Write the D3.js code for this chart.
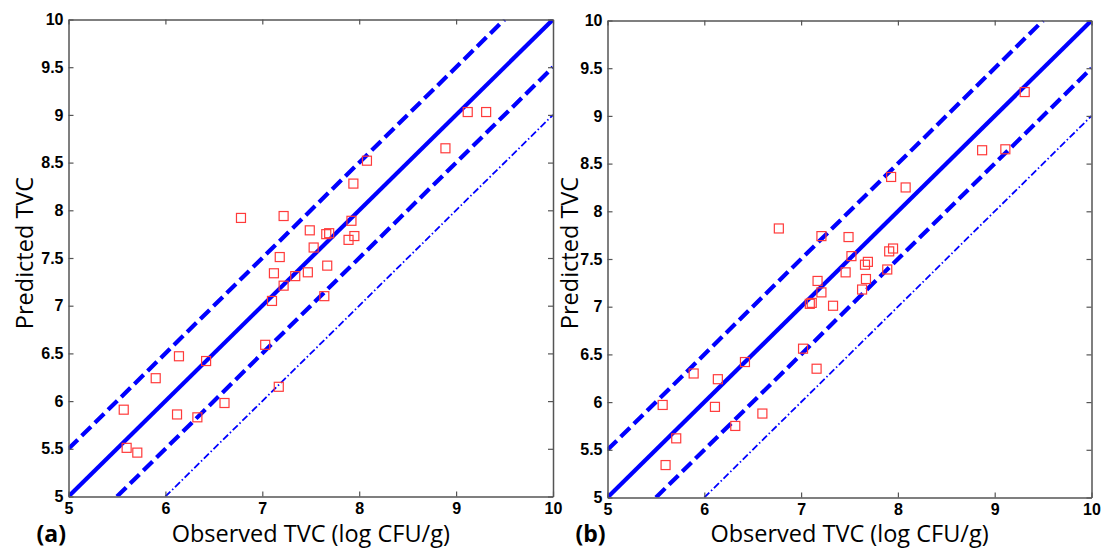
<!DOCTYPE html>
<html>
<head>
<meta charset="utf-8">
<script src="https://cdn.jsdelivr.net/npm/d3@7"></script>
<style>
  html, body { margin: 0; padding: 0; background: #fff; }
  svg { display: block; }
  .tick text { font-family: "Liberation Sans", Arial, sans-serif; font-weight: bold; font-size: 16px; fill: #000; }
  .axis-title { font-family: "Open Sans", "Noto Sans", sans-serif; font-size: 23.5px; fill: #000; }
  .panel-tag { font-family: "Open Sans", "Noto Sans", sans-serif; font-weight: bold; font-size: 23px; fill: #000; }
</style>
</head>
<body>
<svg id="chart" width="1105" height="551"></svg>
<script>
// Axis ticks
const xTicks = [5, 6, 7, 8, 9, 10];
const yTicks = [5, 5.5, 6, 6.5, 7, 7.5, 8, 8.5, 9, 9.5, 10];
const yTickLabels = ["5", "5.5", "6", "6.5", "7", "7.5", "8", "8.5", "9", "9.5", "10"];

// Panel (a): observed vs predicted TVC
const obsA  = [5.57, 5.60, 5.71, 5.90, 6.14, 6.12, 6.33, 6.42, 6.61, 6.78, 7.03, 7.10, 7.17, 7.12, 7.18, 7.22, 7.22, 7.34, 7.47, 7.49, 7.53, 7.64, 7.67, 7.66, 7.69, 7.89, 7.92, 7.95, 7.94, 8.08, 8.89, 9.12, 9.31];
const predA = [5.91, 5.51, 5.46, 6.24, 6.47, 5.86, 5.83, 6.42, 5.98, 7.92, 6.59, 7.05, 6.15, 7.34, 7.51, 7.21, 7.94, 7.31, 7.35, 7.79, 7.61, 7.10, 7.42, 7.75, 7.76, 7.69, 7.89, 7.73, 8.28, 8.52, 8.65, 9.03, 9.03];

// Panel (b): observed vs predicted TVC
const obsB  = [5.57, 5.60, 5.71, 5.89, 6.14, 6.11, 6.32, 6.42, 6.60, 6.77, 7.02, 7.11, 7.09, 7.16, 7.17, 7.21, 7.21, 7.33, 7.46, 7.49, 7.52, 7.63, 7.66, 7.69, 7.67, 7.89, 7.91, 7.95, 7.93, 8.08, 8.87, 9.11, 9.31];
const predB = [5.97, 5.34, 5.62, 6.30, 6.24, 5.95, 5.75, 6.42, 5.88, 7.82, 6.56, 7.04, 7.03, 6.35, 7.27, 7.15, 7.74, 7.01, 7.36, 7.73, 7.53, 7.18, 7.44, 7.47, 7.29, 7.39, 7.58, 7.61, 8.36, 8.25, 8.64, 8.65, 9.25];

// Reference lines: offset from the 1:1 line, with style
const refOffsets = [0, 0.5, -0.5, -1];
const refStyles = [
  { width: 4.2, dash: null },
  { width: 4.2, dash: "13,5.5" },
  { width: 4.2, dash: "13,5.5" },
  { width: 1.8, dash: "7,2.5,1.5,2.5" }
];

const svg = d3.select("#chart");

function drawPanel(box, obs, pred, tag, id, titleGap) {
  const x = d3.scaleLinear().domain([5, 10]).range([box.left, box.right]);
  const y = d3.scaleLinear().domain([5, 10]).range([box.bottom, box.top]);
  const g = svg.append("g");

  g.append("clipPath").attr("id", id)
    .append("rect")
    .attr("x", box.left).attr("y", box.top)
    .attr("width", box.right - box.left).attr("height", box.bottom - box.top);

  // reference lines
  const lines = g.append("g").attr("clip-path", `url(#${id})`);
  refOffsets.forEach((off, i) => {
    const st = refStyles[i];
    const x0 = Math.max(5, 5 - off), x1 = Math.min(10, 10 - off);
    lines.append("line")
      .attr("x1", x(x0)).attr("y1", y(x0 + off))
      .attr("x2", x(x1)).attr("y2", y(x1 + off))
      .attr("stroke", "#0000ff")
      .attr("stroke-width", st.width)
      .attr("stroke-dasharray", st.dash);
  });

  // data markers
  const s = 9;
  g.append("g").selectAll("rect").data(obs.map((v, i) => [v, pred[i]]))
    .join("rect")
    .attr("x", d => x(d[0]) - s / 2)
    .attr("y", d => y(d[1]) - s / 2)
    .attr("width", s).attr("height", s)
    .attr("fill", "none")
    .attr("stroke", "#ff3b3b")
    .attr("stroke-width", 1.2);

  // axes, ticks pointing inward on all four sides
  const axisColor = "#555";
  const bottom = g.append("g").attr("transform", `translate(0,${box.bottom})`)
    .call(d3.axisBottom(x).tickValues(xTicks).tickFormat(d3.format("d")).tickSizeInner(-5).tickSizeOuter(0).tickPadding(5));
  const top = g.append("g").attr("transform", `translate(0,${box.top})`)
    .call(d3.axisTop(x).tickValues(xTicks).tickFormat("").tickSizeInner(-5).tickSizeOuter(0));
  const left = g.append("g").attr("transform", `translate(${box.left},0)`)
    .call(d3.axisLeft(y).tickValues(yTicks).tickFormat((d, i) => yTickLabels[i]).tickSizeInner(-5).tickSizeOuter(0).tickPadding(5));
  const right = g.append("g").attr("transform", `translate(${box.right},0)`)
    .call(d3.axisRight(y).tickValues(yTicks).tickFormat("").tickSizeInner(-5).tickSizeOuter(0));
  [bottom, top, left, right].forEach(a => {
    a.select(".domain").attr("stroke", axisColor).attr("stroke-width", 1.5);
    a.selectAll(".tick line").attr("stroke", axisColor).attr("stroke-width", 1.2);
  });
  bottom.selectAll(".tick text").attr("dy", "0.8em");

  // titles
  const cx = (box.left + box.right) / 2;
  g.append("text").attr("class", "axis-title")
    .attr("x", cx).attr("y", 542).attr("text-anchor", "middle")
    .text("Observed TVC (log CFU/g)");
  g.append("text").attr("class", "axis-title")
    .attr("transform", `translate(${box.left - titleGap},253) rotate(-90)`)
    .attr("text-anchor", "middle")
    .text("Predicted TVC");
  g.append("text").attr("class", "panel-tag")
    .attr("x", box.left - 32).attr("y", 542)
    .text(tag);
}

drawPanel({ left: 68.5, right: 553, top: 19.5, bottom: 496.5 }, obsA, predA, "(a)", "clipA", 36);
drawPanel({ left: 607.5, right: 1091.5, top: 20.5, bottom: 497.5 }, obsB, predB, "(b)", "clipB", 30);
</script>
</body>
</html>
